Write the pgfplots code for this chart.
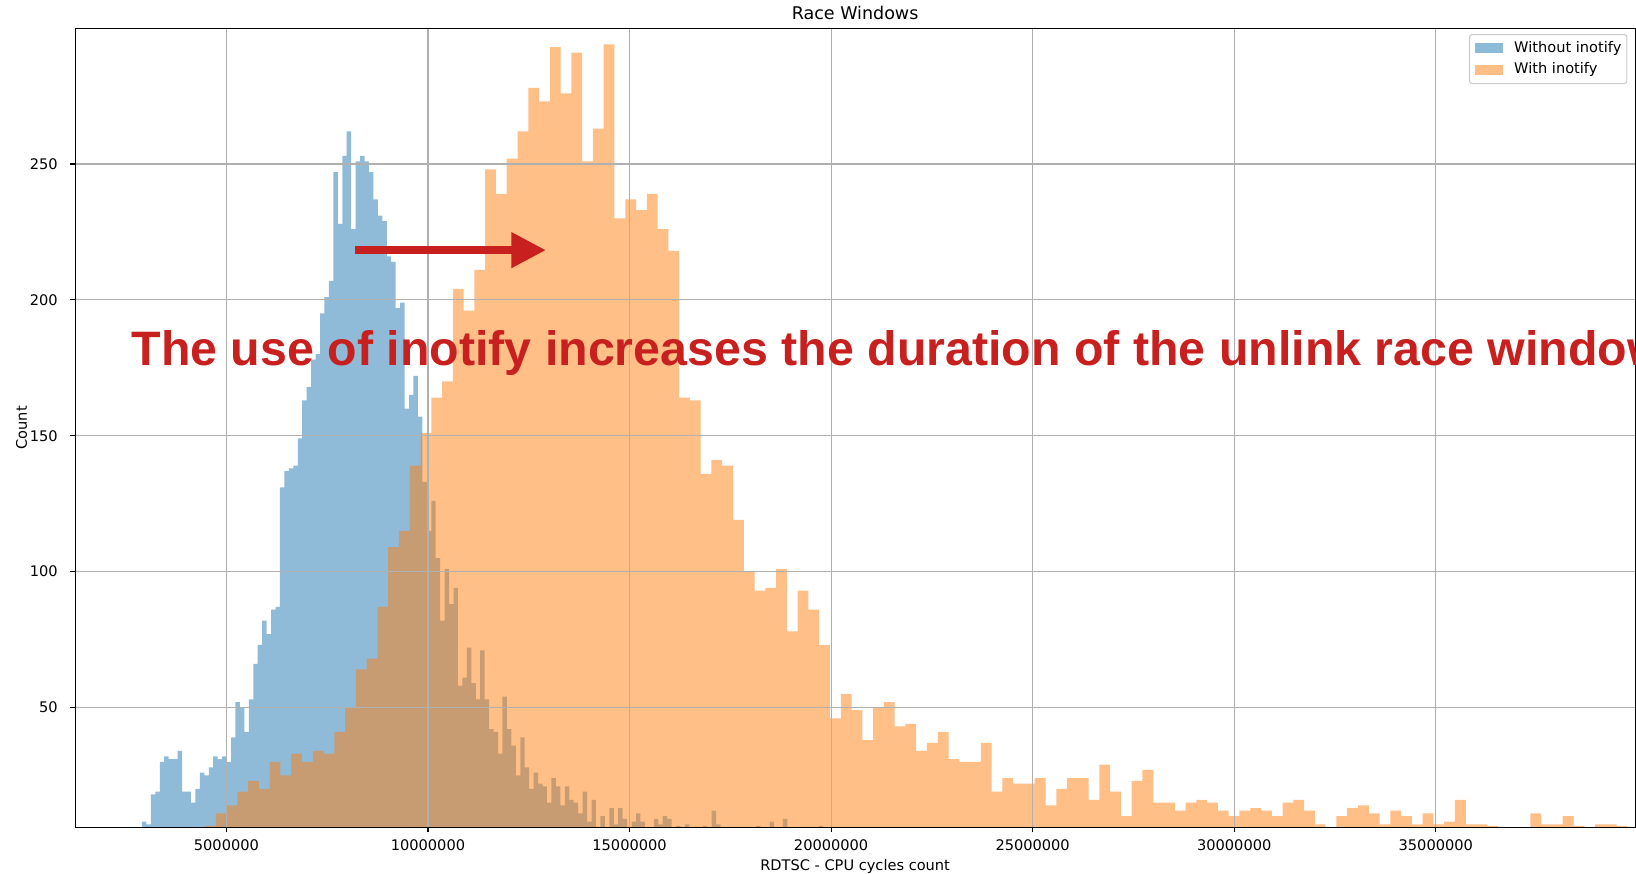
\documentclass[border=0pt]{standalone}
\usepackage{pgfplots}
\pgfplotsset{compat=1.18}
\usepackage{fontspec}
\setmainfont{DejaVu Sans}
\newfontfamily\annotfont{Liberation Sans}
\usetikzlibrary{arrows.meta}
\definecolor{mplblue}{HTML}{1F77B4}
\definecolor{mplorange}{HTML}{FF7F0E}
\definecolor{annred}{RGB}{200,32,30}
\definecolor{gridgray}{HTML}{B0B0B0}
\begin{document}
\begin{tikzpicture}
\begin{axis}[
  at={(0pt,0pt)}, anchor=south west,
  scale only axis,
  width=1123.2pt, height=575.4pt,
  xmin=1246600, xmax=39944000,
  ymin=5.9, ymax=300,
  axis on top,
  grid=major,
  major grid style={gridgray, line width=0.8pt},
  axis line style={black, line width=0.8pt},
  tick pos=left,
  tick align=outside,
  major tick length=3.5pt,
  tick style={black, line width=0.8pt},
  xtick={5000000,10000000,15000000,20000000,25000000,30000000,35000000},
  xticklabels={5000000,10000000,15000000,20000000,25000000,30000000,35000000},
  scaled x ticks=false,
  ytick={50,100,150,200,250},
  tick label style={font=\fontsize{10.5pt}{12pt}\selectfont},
  /pgf/number format/assume math mode=true,
  xticklabel style={anchor=base, inner sep=0pt, yshift=-12.9pt},
  yticklabel style={anchor=east, inner sep=0pt, xshift=-8.9pt},
  title={Race Windows},
  title style={at={(axis description cs:0.5,1)}, anchor=base, yshift=0.3pt, inner sep=0pt, font=\fontsize{12.6pt}{14pt}\selectfont},
  xlabel={RDTSC - CPU cycles count},
  xlabel style={at={(axis description cs:0.5,0)}, anchor=base, yshift=-31pt, inner sep=0pt, font=\fontsize{10.5pt}{12pt}\selectfont},
  ylabel={Count},
  ylabel style={at={(axis description cs:-0.0343,0.5)}, anchor=center, inner sep=0pt, font=\fontsize{10.5pt}{12pt}\selectfont},
  legend style={at={(axis description cs:1,1)}, anchor=north east, xshift=-5.5pt, yshift=-4.2pt,
    draw=black!20, line width=0.8pt, rounded corners=2pt, fill=white, fill opacity=0.8, text opacity=1,
    font=\fontsize{10.5pt}{12pt}\selectfont, inner xsep=4pt, inner ysep=4.8pt, row sep=5.4pt, column sep=8.2pt,
    nodes={inner sep=0pt, text height=7.8pt, text depth=2.4pt}},
  legend cell align=left,
  legend image code/.code={\fill[#1, sharp corners] (0pt,-3.5pt) rectangle (20pt,3.5pt);},
]
\addplot[const plot, fill=mplblue, fill opacity=0.5, draw=none] coordinates {
(2906000,8) (3016400,7) (3126800,18) (3237200,19) (3347600,30) (3458000,32) (3568400,31) (3678800,31)
(3789200,34) (3899600,19) (4010000,19) (4120400,15) (4230800,20) (4341200,26) (4451600,25) (4562000,28)
(4672400,32) (4782800,31) (4893200,32) (5003600,30) (5114000,39) (5224400,52) (5334800,50) (5445200,41)
(5555600,53) (5666000,66) (5776400,73) (5886800,82) (5997200,77) (6107600,86) (6218000,87) (6328400,131)
(6438800,137) (6549200,138) (6659600,139) (6770000,149) (6880400,163) (6990800,168) (7101200,178) (7211600,180)
(7322000,195) (7432400,201) (7542800,207) (7653200,247) (7763600,228) (7874000,253) (7984400,262) (8094800,226)
(8205200,251) (8315600,253) (8426000,251) (8536400,247) (8646800,237) (8757200,231) (8867600,229) (8978000,216)
(9088400,214) (9198800,197) (9309200,199) (9419600,160) (9530000,165) (9640400,172) (9750800,157) (9861200,133)
(9971600,115) (10082000,126) (10192400,105) (10302800,82) (10413200,101) (10523600,88) (10634000,94) (10744400,58)
(10854800,61) (10965200,72) (11075600,59) (11186000,53) (11296400,71) (11406800,53) (11517200,42) (11627600,41)
(11738000,33) (11848400,54) (11958800,42) (12069200,36) (12179600,25) (12290000,39) (12400400,28) (12510800,20)
(12621200,26) (12731600,22) (12842000,21) (12952400,15) (13062800,24) (13173200,21) (13283600,14) (13394000,21)
(13504400,16) (13614800,15) (13725200,11) (13835600,19) (13946000,8) (14056400,16) (14166800,4) (14277200,10)
(14387600,4) (14498000,13) (14608400,7) (14718800,13) (14829200,9) (14939600,4) (15050000,8) (15160400,11)
(15270800,8) (15381200,4) (15491600,4) (15602000,9) (15712400,7) (15822800,10) (15933200,9) (16043600,4)
(16154000,6.4) (16264400,4) (16374800,7) (16485200,4) (16595600,4) (16706000,4) (16816400,6.4) (16926800,4)
(17037200,12) (17147600,7) (17258000,3) (18141200,6.4) (18251600,3) (18472400,8) (18582800,3) (18803600,9)
(18914000,3) (19686800,6.4) (19797200,3) (19907600,3)
} \closedcycle;
\addlegendentry{Without inotify}
\addplot[const plot, fill=mplorange, fill opacity=0.5, draw=none] coordinates {
(4469000,6.4) (4736300,11) (5003600,14) (5270900,19) (5538200,23) (5805500,20) (6072800,30) (6340100,25)
(6607400,33) (6874700,30) (7142000,34) (7409300,33) (7676600,41) (7943900,50) (8211200,64) (8478500,68)
(8745800,87) (9013100,109) (9280400,115) (9547700,139) (9815000,151) (10082300,164) (10349600,170) (10616900,204)
(10884200,196) (11151500,211) (11418800,248) (11686100,239) (11953400,252) (12220700,262) (12488000,278) (12755300,273)
(13022600,293) (13289900,276) (13557200,291) (13824500,251) (14091800,263) (14359100,294) (14626400,230) (14893700,237)
(15161000,233) (15428300,239) (15695600,226) (15962900,218) (16230200,164) (16497500,163) (16764800,136) (17032100,141)
(17299400,139) (17566700,119) (17834000,100) (18101300,93) (18368600,94) (18635900,101) (18903200,78) (19170500,93)
(19437800,86) (19705100,73) (19972400,46) (20239700,55) (20507000,49) (20774300,38) (21041600,50) (21308900,52)
(21576200,43) (21843500,44) (22110800,34) (22378100,37) (22645400,41) (22912700,31) (23180000,30) (23447300,30)
(23714600,37) (23981900,19) (24249200,24) (24516500,22) (24783800,22) (25051100,24) (25318400,14) (25585700,20)
(25853000,24) (26120300,24) (26387600,16) (26654900,29) (26922200,19) (27189500,10) (27456800,23) (27724100,27)
(27991400,15) (28258700,15) (28526000,12) (28793300,15) (29060600,16) (29327900,15) (29595200,12) (29862500,10)
(30129800,12) (30397100,13) (30664400,12) (30931700,10) (31199000,15) (31466300,16) (31733600,12) (32000900,7)
(32268200,4) (32535500,10) (32802800,13) (33070100,14) (33337400,11) (33604700,7) (33872000,12) (34139300,10)
(34406600,7) (34673900,11) (34941200,7) (35208500,8) (35475800,16) (35743100,7) (36010400,7) (36277700,6.4)
(36545000,4) (37346900,11) (37614200,7) (37881500,7) (38148800,10) (38416100,6.4) (38683400,4) (38950700,7)
(39218000,7) (39485300,6.4) (39752600,4) (40019900,4)
} \closedcycle;
\addlegendentry{With inotify}
\coordinate (txt) at (axis cs:2640000,175.7);
\coordinate (a1) at (axis cs:8178000,218.3);
\coordinate (a2) at (axis cs:12923000,218.3);
\end{axis}
\node[anchor=base west, inner sep=0pt, text=annred, font=\annotfont\bfseries\fontsize{34.8pt}{40pt}\selectfont] at (txt) {The use of inotify increases the duration of the unlink race window};
\draw[annred, line width=5.3pt, -{Triangle[length=24.8pt,width=24.5pt]}] (a1) -- (a2);
\pgfresetboundingbox
\useasboundingbox (-54.07pt,-33.6pt) rectangle (1123.85pt,595.66pt);
\end{tikzpicture}
\end{document}
